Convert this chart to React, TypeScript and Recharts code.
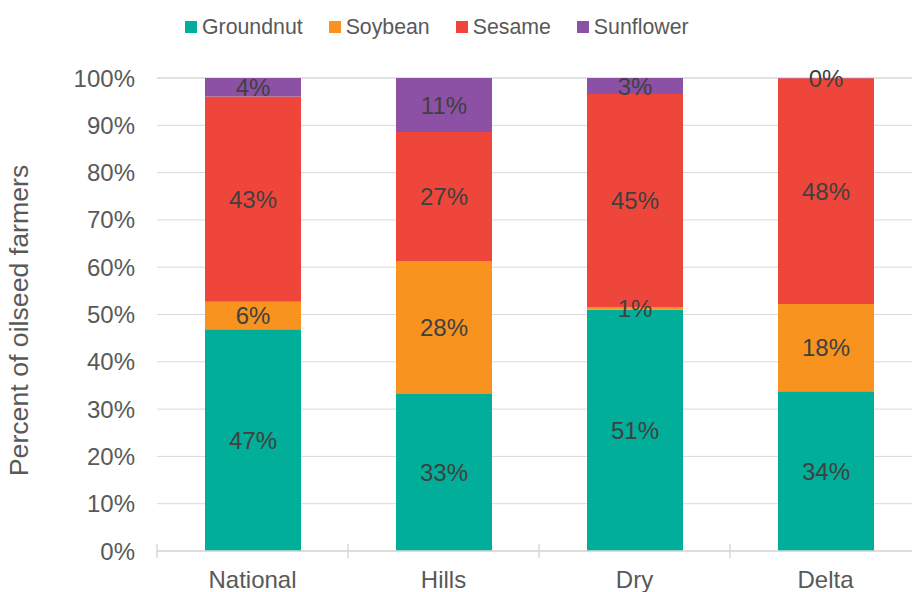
import { Bar, BarChart, CartesianGrid, LabelList, Legend, XAxis, YAxis } from "recharts";

const regions = ["National", "Hills", "Dry", "Delta"];
const groundnut = [46.9, 33.2, 51.0, 33.8];
const soybean = [5.8, 28.1, 0.6, 18.4];
const sesame = [43.4, 27.3, 45.0, 47.75];
const sunflower = [3.9, 11.4, 3.4, 0.05];
const yTicks = [0, 10, 20, 30, 40, 50, 60, 70, 80, 90, 100];

const series = [
  { key: "groundnut", name: "Groundnut", color: "#00AE99" },
  { key: "soybean", name: "Soybean", color: "#F7931E" },
  { key: "sesame", name: "Sesame", color: "#EF463C" },
  { key: "sunflower", name: "Sunflower", color: "#8C51A5" },
];

const data = regions.map((region, i) => ({
  region,
  groundnut: groundnut[i],
  soybean: soybean[i],
  sesame: sesame[i],
  sunflower: sunflower[i],
}));

const font = "'Liberation Sans', Arial, sans-serif";
const grey = "#595959";
const lineGrey = "#d9d9d9";

function LegendContent() {
  return (
    <div style={{ display: "flex", paddingLeft: 185, fontFamily: font, fontSize: 21.3, lineHeight: "26px", color: grey }}>
      {series.map((s) => (
        <div key={s.key} style={{ display: "flex", alignItems: "center", marginRight: 26 }}>
          <span style={{ display: "inline-block", width: 12, height: 12, background: s.color, marginRight: 5 }} />
          <span>{s.name}</span>
        </div>
      ))}
    </div>
  );
}

const TICK_SIZE = 6;
const TICK_MARGIN = 14;

// category label plus cross-style tick marks on the band edges
function CategoryTick(props: any) {
  const { x, y, payload, index, visibleTicksCount } = props;
  const half = payload?.offset ?? 0;
  const axisY = y - TICK_SIZE - TICK_MARGIN;
  const edges = [x - half];
  if (index === visibleTicksCount - 1) edges.push(x + half);
  return (
    <g>
      {edges.map((ex, i) => (
        <line key={i} x1={ex} x2={ex} y1={axisY - 7} y2={axisY + 7} stroke={lineGrey} strokeWidth={1.5} />
      ))}
      <text x={x} y={y} dy="0.71em" textAnchor="middle" fill={grey} fontSize={24} fontFamily={font}>
        {payload.value}
      </text>
    </g>
  );
}

function BarValue(props: any) {
  const { x, y, width, height, value } = props;
  return (
    <text x={x + width / 2} y={y + height / 2} dy="0.36em" textAnchor="middle" fill="#404040" fontSize={24} fontFamily={font}>
      {`${Math.round(value)}%`}
    </text>
  );
}

function YTitle(props: any) {
  const { viewBox } = props;
  const cx = viewBox.x + 28;
  const cy = viewBox.y + viewBox.height / 2 + 6;
  return (
    <text x={cx} y={cy} transform={`rotate(-90, ${cx}, ${cy})`} textAnchor="middle" fill={grey} fontSize={26.7} fontFamily={font}>
      Percent of oilseed farmers
    </text>
  );
}

export default function App() {
  return (
    <div style={{ position: "fixed", left: 0, top: 0, width: 912, height: 592, overflow: "hidden", background: "#fff" }}>
      <BarChart width={921} height={592} data={data} margin={{ top: 52, right: 0, bottom: 0, left: 0 }} barSize={96}>
        <CartesianGrid stroke={lineGrey} vertical={false} />
        <XAxis
          dataKey="region"
          tick={<CategoryTick />}
          axisLine={{ stroke: lineGrey, strokeWidth: 1.5 }}
          tickLine={false}
          tickSize={TICK_SIZE}
          tickMargin={TICK_MARGIN}
          height={41}
        />
        <YAxis
          width={157}
          domain={[0, 100]}
          ticks={yTicks}
          tickFormatter={(v) => `${v}%`}
          tick={{ fill: grey, fontSize: 24, fontFamily: font }}
          axisLine={false}
          tickLine={false}
          tickMargin={16}
          label={<YTitle />}
        />
        <Legend verticalAlign="top" content={<LegendContent />} wrapperStyle={{ top: 14, left: 0, width: 921 }} />
        {series.map((s) => (
          <Bar key={s.key} dataKey={s.key} name={s.name} stackId="a" fill={s.color} isAnimationActive={false}>
            <LabelList dataKey={s.key} content={<BarValue />} />
          </Bar>
        ))}
      </BarChart>
    </div>
  );
}
